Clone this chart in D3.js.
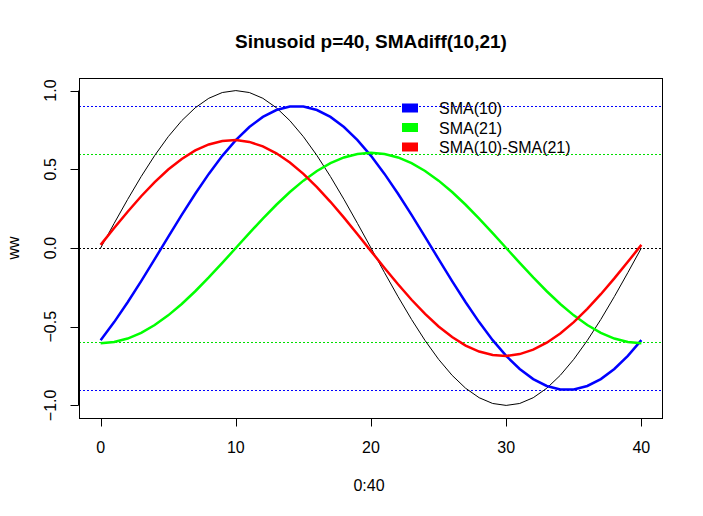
<!DOCTYPE html>
<html><head><meta charset="utf-8">
<script src="https://cdn.jsdelivr.net/npm/d3@7"></script>
<style>body{margin:0;background:#fff}svg{display:block}text{font-family:"Liberation Sans",Arial,sans-serif}</style>
</head><body>
<script>
const xs = d3.range(0, 41);
const ww = [0,0.1564,0.3090,0.4540,0.5878,0.7071,0.8090,0.8910,0.9511,0.9877,1,0.9877,0.9511,0.8910,0.8090,0.7071,0.5878,0.4540,0.3090,0.1564,0,
 -0.1564,-0.3090,-0.4540,-0.5878,-0.7071,-0.8090,-0.8910,-0.9511,-0.9877,-1,-0.9877,-0.9511,-0.8910,-0.8090,-0.7071,-0.5878,-0.4540,-0.3090,-0.1564,0];
const sma10 = [-0.5853,-0.4709,-0.3449,-0.2104,-0.0707,0.0707,0.2104,0.3449,0.4709,0.5853,0.6854,0.7685,0.8327,0.8764,0.8985,0.8985,0.8764,0.8327,0.7685,0.6854,0.5853,
 0.4709,0.3449,0.2104,0.0707,-0.0707,-0.2104,-0.3449,-0.4709,-0.5853,-0.6854,-0.7685,-0.8327,-0.8764,-0.8985,-0.8985,-0.8764,-0.8327,-0.7685,-0.6854,-0.5853];
const sma21 = [-0.605,-0.5976,-0.5754,-0.5391,-0.4894,-0.4278,-0.3556,-0.2747,-0.1869,-0.0946,0,0.0946,0.1869,0.2747,0.3556,0.4278,0.4894,0.5391,0.5754,0.5976,0.605,
 0.5976,0.5754,0.5391,0.4894,0.4278,0.3556,0.2747,0.1869,0.0946,0,-0.0946,-0.1869,-0.2747,-0.3556,-0.4278,-0.4894,-0.5391,-0.5754,-0.5976,-0.605];
const smaDiff = [0.0197,0.1267,0.2305,0.3287,0.4187,0.4985,0.5660,0.6196,0.6578,0.6799,0.6854,0.6739,0.6458,0.6017,0.5429,0.4707,0.3870,0.2936,0.1931,0.0878,-0.0197,
 -0.1267,-0.2305,-0.3287,-0.4187,-0.4985,-0.5660,-0.6196,-0.6578,-0.6799,-0.6854,-0.6739,-0.6458,-0.6017,-0.5429,-0.4707,-0.3870,-0.2936,-0.1931,-0.0878,0.0197];
const hlines = [
  {v:0.9, c:"#0000ff"},{v:0.6, c:"#00e000"},{v:0, c:"#000000"},{v:-0.6, c:"#00e000"},{v:-0.9, c:"#0000ff"}];
const xTicks = [0,10,20,30,40];
const yTicks = [-1,-0.5,0,0.5,1];
const legendLabels = ["SMA(10)","SMA(21)","SMA(10)-SMA(21)"];
const legendColors = ["#0000ff","#00ff00","#ff0000"];

const W=703,H=516, L=79, R=663, T=78, B=418;
const svg = d3.select("body").append("svg").attr("width",W).attr("height",H);
const x = d3.scaleLinear().domain([-1.6,41.6]).range([L,R]);
const y = d3.scaleLinear().domain([-1.08,1.08]).range([B,T]);

// hlines
svg.selectAll("line.h").data(hlines).enter().append("line")
  .attr("x1",L).attr("x2",R).attr("y1",d=>Math.round(y(d.v))+0.5).attr("y2",d=>Math.round(y(d.v))+0.5)
  .attr("stroke",d=>d.c).attr("stroke-width",1).attr("stroke-dasharray","2,2");

const line = arr => d3.line().x((d,i)=>x(xs[i])).y(d=>y(d))(arr);
svg.append("path").attr("d",line(ww)).attr("fill","none").attr("stroke","#000").attr("stroke-width",1);
svg.append("path").attr("d",line(sma10)).attr("fill","none").attr("stroke","#0000ff").attr("stroke-width",2.5);
svg.append("path").attr("d",line(sma21)).attr("fill","none").attr("stroke","#00ff00").attr("stroke-width",2.5);
svg.append("path").attr("d",line(smaDiff)).attr("fill","none").attr("stroke","#ff0000").attr("stroke-width",2.5);

// box
svg.append("rect").attr("x",L+0.5).attr("y",T+0.5).attr("width",R-L-1).attr("height",B-T).attr("fill","none").attr("stroke","#000");

// x axis
const xa = svg.append("g").attr("transform",`translate(0,${B+0.5})`);
xa.append("line").attr("x1",x(0)).attr("x2",x(40)).attr("stroke","#000");
xa.selectAll("line.t").data(xTicks).enter().append("line")
  .attr("x1",d=>Math.round(x(d))+0.5).attr("x2",d=>Math.round(x(d))+0.5).attr("y1",0).attr("y2",8).attr("stroke","#000");
xa.selectAll("text").data(xTicks).enter().append("text")
  .attr("x",d=>x(d)).attr("y",34.5).attr("text-anchor","middle").attr("font-size",16).text(d=>d);

// y axis
const ya = svg.append("g").attr("transform",`translate(${L-0.5},0)`);
ya.append("line").attr("y1",y(-1)).attr("y2",y(1)).attr("stroke","#000");
ya.selectAll("line.t").data(yTicks).enter().append("line")
  .attr("y1",d=>Math.round(y(d))+0.5).attr("y2",d=>Math.round(y(d))+0.5).attr("x1",0).attr("x2",-8).attr("stroke","#000");
ya.selectAll("text").data(yTicks).enter().append("text")
  .attr("transform",d=>`translate(-22.5,${y(d)}) rotate(-90)`).attr("text-anchor","middle").attr("font-size",16)
  .text(d=>d3.format(".1f")(d));

// titles
svg.append("text").attr("x",(L+R)/2).attr("y",48).attr("text-anchor","middle").attr("font-size",19).attr("font-weight","bold")
  .text("Sinusoid p=40, SMAdiff(10,21)");
svg.append("text").attr("x",(L+R)/2 - 2).attr("y",491).attr("text-anchor","middle").attr("font-size",16).text("0:40");
svg.append("text").attr("transform",`translate(19,${(T+B)/2}) rotate(-90)`).attr("text-anchor","middle").attr("font-size",16).text("ww");

// legend
const lg = svg.append("g");
legendLabels.forEach((lab,i)=>{
  const cy = 108 + i*19.5;
  lg.append("rect").attr("x",402).attr("y",cy-4.5).attr("width",16).attr("height",9).attr("fill",legendColors[i]);
  lg.append("text").attr("x",439).attr("y",cy+6).attr("font-size",16).text(lab);
});
</script>
</body></html>
